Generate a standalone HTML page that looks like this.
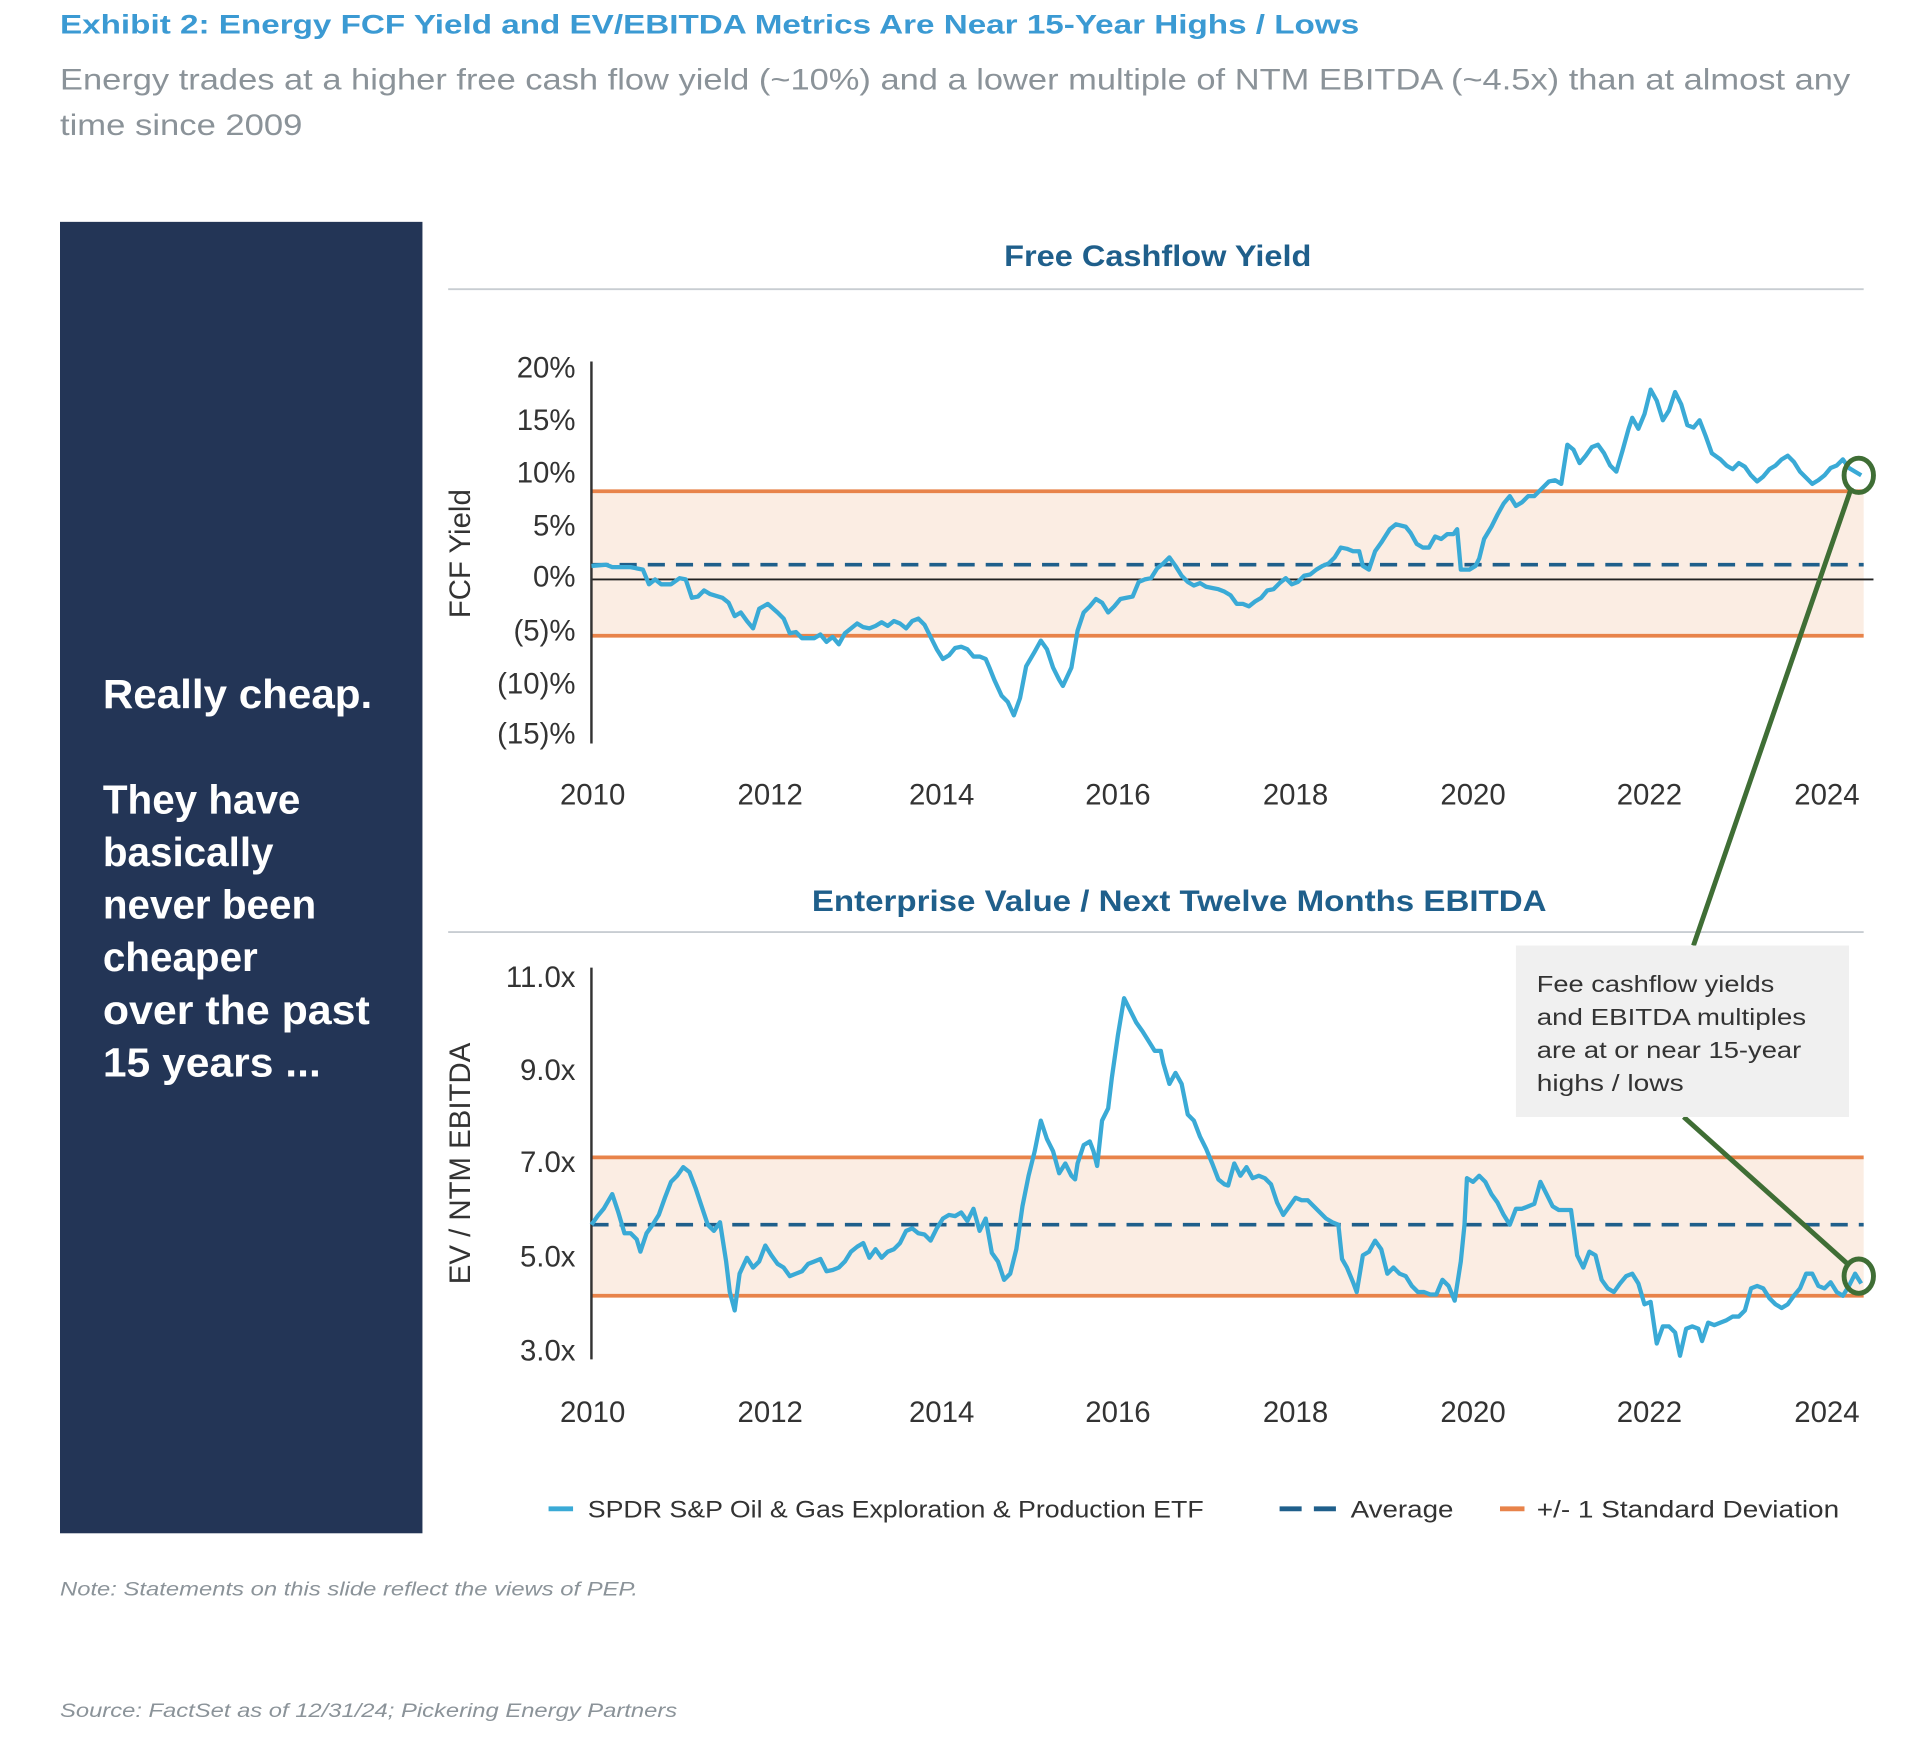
<!DOCTYPE html>
<html><head><meta charset="utf-8"><style>
html,body{margin:0;padding:0;background:#fff;}
svg{display:block;}
text{font-family:"Liberation Sans",sans-serif;}
</style></head><body>
<svg width="1920" height="1738" viewBox="0 0 1568 1419" xmlns="http://www.w3.org/2000/svg">
<text x="49" y="27" font-size="22" font-weight="bold" fill="#3b9ad3" textLength="1061" lengthAdjust="spacingAndGlyphs">Exhibit 2: Energy FCF Yield and EV/EBITDA Metrics Are Near 15-Year Highs / Lows</text>
<text x="49" y="73" font-size="24" fill="#8b9399" textLength="1462" lengthAdjust="spacingAndGlyphs">Energy trades at a higher free cash flow yield (~10%) and a lower multiple of NTM EBITDA (~4.5x) than at almost any</text>
<text x="49" y="110" font-size="24" fill="#8b9399" textLength="198" lengthAdjust="spacingAndGlyphs">time since 2009</text>
<rect x="49" y="181" width="296" height="1071" fill="#233556"/>
<g fill="#fff" font-size="33" font-weight="bold">
<text x="84" y="578" textLength="220" lengthAdjust="spacingAndGlyphs">Really cheap.</text>
<text x="84" y="664">They have</text>
<text x="84" y="707">basically</text>
<text x="84" y="750">never been</text>
<text x="84" y="793">cheaper</text>
<text x="84" y="836" textLength="218" lengthAdjust="spacingAndGlyphs">over the past</text>
<text x="84" y="879" textLength="178" lengthAdjust="spacingAndGlyphs">15 years ...</text>
</g>
<!-- chart 1 -->
<text x="820" y="217" font-size="24" font-weight="bold" fill="#1f5f8b" textLength="251" lengthAdjust="spacingAndGlyphs">Free Cashflow Yield</text>
<line x1="366" y1="236" x2="1522" y2="236" stroke="#c8cdd2" stroke-width="1.5"/>
<rect x="483" y="401" width="1039" height="118" fill="#fbede3"/>
<line x1="483" y1="401" x2="1522" y2="401" stroke="#e8834a" stroke-width="3"/>
<line x1="483" y1="519" x2="1522" y2="519" stroke="#e8834a" stroke-width="3"/>
<line x1="483" y1="473" x2="1530" y2="473" stroke="#222" stroke-width="1.5"/>
<line x1="483" y1="461" x2="1522" y2="461" stroke="#1f5f8b" stroke-width="3" stroke-dasharray="14,9"/>
<line x1="483" y1="295" x2="483" y2="607" stroke="#333" stroke-width="2"/>
<g font-size="24" fill="#333" text-anchor="end">
<text x="470" y="308">20%</text><text x="470" y="351">15%</text><text x="470" y="394">10%</text><text x="470" y="437">5%</text><text x="470" y="479">0%</text><text x="470" y="523">(5)%</text><text x="470" y="566">(10)%</text><text x="470" y="607">(15)%</text>
</g>
<text transform="translate(384,452) rotate(-90)" font-size="24" fill="#333" text-anchor="middle">FCF Yield</text>
<g font-size="24" fill="#333" text-anchor="middle">
<text x="484" y="657">2010</text><text x="629" y="657">2012</text><text x="769" y="657">2014</text><text x="913" y="657">2016</text><text x="1058" y="657">2018</text><text x="1203" y="657">2020</text><text x="1347" y="657">2022</text><text x="1492" y="657">2024</text>
</g>
<polyline fill="none" stroke="#3aaad6" stroke-width="3.5" stroke-linejoin="round" points="483,462 495,461 500,463 515,463 525,465 530,477 535,473 540,477 548,477 555,472 560,473 565,488 570,487 575,482 580,485 590,488 595,492 600,503 605,500 610,507 615,513 620,497 627,493 635,500 640,505 645,517 650,516 655,521 665,521 670,518 675,524 680,520 685,526 690,517 695,513 700,509 705,512 710,513 715,511 720,508 725,511 730,507 735,509 740,513 745,507 750,505 755,510 760,520 765,530 770,538 775,535 780,529 785,528 790,530 795,536 800,536 805,538 808,545 812,555 818,568 823,573 828,584 833,570 838,544 845,532 850,523 855,530 860,545 865,555 868,560 875,545 880,515 885,500 890,495 895,489 900,492 905,500 910,495 915,489 920,488 925,487 930,475 935,473 940,472 945,464 950,460 955,455 960,462 965,470 970,475 975,478 980,476 985,479 990,480 995,481 1000,483 1005,486 1010,493 1015,493 1020,495 1025,491 1030,488 1035,482 1040,481 1045,476 1050,472 1055,477 1060,475 1065,470 1070,469 1075,465 1080,462 1085,460 1090,455 1095,447 1100,448 1105,450 1110,450 1113,462 1118,465 1123,450 1128,443 1135,432 1140,428 1148,430 1152,435 1157,444 1162,447 1167,447 1172,438 1177,440 1182,436 1187,436 1190,432 1193,465 1200,465 1205,462 1208,456 1212,440 1218,430 1223,420 1228,411 1233,405 1238,413 1243,410 1248,405 1253,405 1258,400 1265,393 1270,392 1275,395 1280,363 1285,367 1290,378 1295,372 1300,365 1305,363 1310,370 1315,380 1320,385 1325,368 1330,350 1333,341 1338,350 1343,338 1348,318 1353,327 1358,343 1363,335 1368,320 1373,330 1378,347 1383,349 1388,343 1393,356 1398,370 1405,375 1410,380 1415,383 1420,378 1425,381 1430,388 1435,393 1440,389 1445,383 1450,380 1455,375 1460,372 1465,377 1470,385 1475,390 1480,395 1485,392 1490,388 1495,382 1500,380 1505,375 1510,382 1515,385 1520,388"/>
<!-- chart 2 -->
<text x="663" y="744" font-size="24" font-weight="bold" fill="#1f5f8b" textLength="600" lengthAdjust="spacingAndGlyphs">Enterprise Value / Next Twelve Months EBITDA</text>
<line x1="366" y1="761" x2="1522" y2="761" stroke="#c8cdd2" stroke-width="1.5"/>
<rect x="483" y="945" width="1039" height="113" fill="#fbede3"/>
<line x1="483" y1="945" x2="1522" y2="945" stroke="#e8834a" stroke-width="3"/>
<line x1="483" y1="1058" x2="1522" y2="1058" stroke="#e8834a" stroke-width="3"/>
<line x1="483" y1="1000" x2="1522" y2="1000" stroke="#1f5f8b" stroke-width="3" stroke-dasharray="14,9"/>
<line x1="483" y1="790" x2="483" y2="1110" stroke="#333" stroke-width="2"/>
<g font-size="24" fill="#333" text-anchor="end">
<text x="470" y="806">11.0x</text><text x="470" y="882">9.0x</text><text x="470" y="957">7.0x</text><text x="470" y="1034">5.0x</text><text x="470" y="1111">3.0x</text>
</g>
<text transform="translate(384,950) rotate(-90)" font-size="24" fill="#333" text-anchor="middle">EV / NTM EBITDA</text>
<g font-size="24" fill="#333" text-anchor="middle">
<text x="484" y="1161">2010</text><text x="629" y="1161">2012</text><text x="769" y="1161">2014</text><text x="913" y="1161">2016</text><text x="1058" y="1161">2018</text><text x="1203" y="1161">2020</text><text x="1347" y="1161">2022</text><text x="1492" y="1161">2024</text>
</g>
<polyline fill="none" stroke="#3aaad6" stroke-width="3.5" stroke-linejoin="round" points="483,1000 488,993 493,987 500,975 505,990 510,1007 515,1007 520,1012 523,1022 528,1007 533,1000 538,992 543,978 548,965 553,960 558,953 563,957 568,970 573,985 578,1000 583,1005 588,998 593,1030 596,1055 600,1070 604,1040 610,1027 615,1035 620,1030 625,1017 630,1025 635,1032 640,1035 645,1042 650,1040 655,1038 660,1032 665,1030 670,1028 675,1038 680,1037 685,1035 690,1030 695,1022 700,1018 705,1015 710,1027 715,1020 720,1027 725,1022 730,1020 735,1015 740,1005 745,1003 750,1007 755,1008 760,1013 765,1003 770,995 775,992 780,993 785,990 790,997 795,987 800,1005 805,995 810,1023 815,1030 820,1045 825,1040 830,1020 835,985 840,960 845,940 850,915 855,930 860,940 865,958 870,950 875,960 878,963 880,950 885,935 890,932 893,940 896,952 900,915 905,905 908,880 913,845 918,815 923,825 928,835 933,842 938,850 943,858 948,858 950,868 955,885 960,876 965,885 970,910 975,915 980,928 985,938 990,950 995,963 1000,967 1003,968 1008,950 1013,960 1018,953 1023,962 1028,960 1033,962 1038,967 1043,982 1048,992 1053,985 1058,978 1063,980 1068,980 1073,985 1078,990 1083,995 1088,998 1093,1000 1096,1028 1100,1035 1105,1047 1108,1055 1113,1025 1118,1022 1123,1013 1128,1020 1133,1040 1138,1035 1143,1040 1148,1042 1153,1050 1158,1055 1163,1055 1168,1057 1173,1057 1178,1045 1183,1050 1188,1062 1193,1030 1196,1000 1198,962 1203,965 1208,960 1213,965 1218,975 1223,982 1228,992 1233,1000 1238,987 1243,987 1248,985 1253,983 1258,965 1263,975 1268,985 1273,988 1278,988 1283,988 1288,1025 1293,1035 1298,1022 1303,1025 1308,1045 1313,1052 1318,1055 1323,1048 1328,1042 1333,1040 1338,1048 1343,1065 1348,1063 1353,1097 1358,1083 1363,1083 1368,1088 1372,1107 1377,1085 1382,1083 1387,1085 1390,1095 1395,1080 1400,1082 1405,1080 1410,1078 1415,1075 1420,1075 1425,1070 1430,1052 1435,1050 1440,1052 1445,1060 1450,1065 1455,1068 1460,1065 1465,1058 1470,1052 1475,1040 1480,1040 1485,1050 1490,1052 1495,1047 1500,1055 1505,1058 1510,1050 1515,1040 1520,1048"/>
<!-- annotation -->
<line x1="1383" y1="772" x2="1512" y2="398" stroke="#3f6e35" stroke-width="4"/>
<line x1="1375" y1="912" x2="1510" y2="1033" stroke="#3f6e35" stroke-width="4"/>
<rect x="1238" y="772" width="272" height="140" fill="#f0f0f0"/>
<g font-size="19" fill="#333">
<text x="1255" y="810" textLength="194" lengthAdjust="spacingAndGlyphs">Fee cashflow yields</text>
<text x="1255" y="837" textLength="220" lengthAdjust="spacingAndGlyphs">and EBITDA multiples</text>
<text x="1255" y="864" textLength="216" lengthAdjust="spacingAndGlyphs">are at or near 15-year</text>
<text x="1255" y="891" textLength="120" lengthAdjust="spacingAndGlyphs">highs / lows</text>
</g>
<ellipse cx="1518" cy="388" rx="12" ry="14" fill="none" stroke="#3f6e35" stroke-width="4"/>
<ellipse cx="1518" cy="1042" rx="12" ry="14" fill="none" stroke="#3f6e35" stroke-width="4"/>
<!-- legend -->
<line x1="448" y1="1232" x2="468" y2="1232" stroke="#3aaad6" stroke-width="4"/>
<text x="480" y="1239" font-size="20" fill="#333" textLength="503" lengthAdjust="spacingAndGlyphs">SPDR S&amp;P Oil &amp; Gas Exploration &amp; Production ETF</text>
<line x1="1045" y1="1232" x2="1092" y2="1232" stroke="#1f5f8b" stroke-width="4" stroke-dasharray="18,10"/>
<text x="1103" y="1239" font-size="20" fill="#333" textLength="84" lengthAdjust="spacingAndGlyphs">Average</text>
<line x1="1225" y1="1232" x2="1245" y2="1232" stroke="#e8834a" stroke-width="4"/>
<text x="1255" y="1239" font-size="20" fill="#333" textLength="247" lengthAdjust="spacingAndGlyphs">+/- 1 Standard Deviation</text>
<text x="49" y="1303" font-size="16" font-style="italic" fill="#8b9399" textLength="472" lengthAdjust="spacingAndGlyphs">Note: Statements on this slide reflect the views of PEP.</text>
<text x="49" y="1402" font-size="16" font-style="italic" fill="#8b9399" textLength="504" lengthAdjust="spacingAndGlyphs">Source: FactSet as of 12/31/24; Pickering Energy Partners</text>
</svg>
</body></html>
